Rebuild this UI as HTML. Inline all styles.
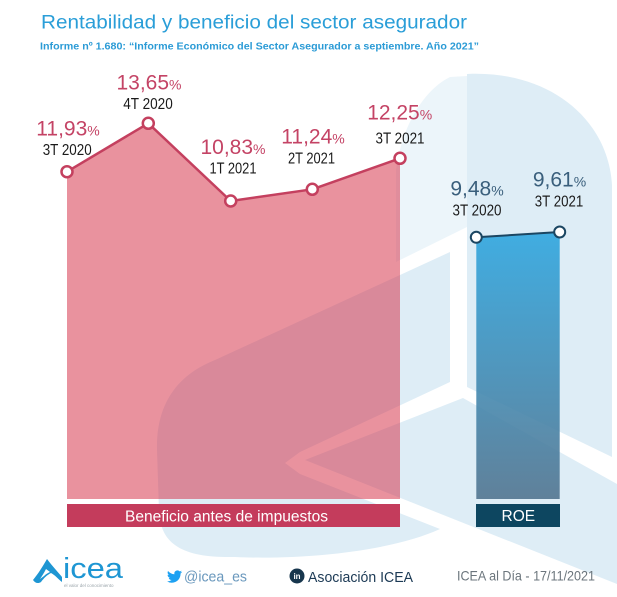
<!DOCTYPE html>
<html>
<head>
<meta charset="utf-8">
<style>
  html, body { margin: 0; padding: 0; background: #fff; }
  svg { display: block; }
  text { font-family: "Liberation Sans", Arial, sans-serif; }
</style>
</head>
<body>
<svg width="617" height="597" viewBox="0 0 617 597" xmlns="http://www.w3.org/2000/svg">
  <defs>
    <linearGradient id="roeg" x1="0" y1="0" x2="0" y2="1">
      <stop offset="0" stop-color="#2fa6df"/>
      <stop offset="1" stop-color="#527590"/>
    </linearGradient>
  </defs>
  <rect width="617" height="597" fill="#ffffff"/>

  <!-- watermark -->
  <path fill="#ecf5fa" d="M450,77 C424,90 402,125 396,170 L396,262 L467,227 L467,76 Z"/>
  <g fill="#deedf6">
    <path d="M467,74 C548,70 608,118 612,185 L612,457 L467,387 Z"/>
    <path d="M450,252 L450,382 L300,452 L285,463 L300,474 L440,529 C390,552 300,560 235,557 C185,558 161,546 159,512 L157,450 C156,410 172,377 215,360 Z"/>
    <path d="M463,398 L305,460 L617,584 L617,484 Z"/>
  </g>

  <!-- Title -->
  <text x="41" y="28.5" font-size="19.5" fill="#2a9ed8" textLength="426" lengthAdjust="spacingAndGlyphs">Rentabilidad y beneficio del sector asegurador</text>
  <text x="40" y="49.5" font-size="10.5" font-weight="bold" fill="#2b9bd6" textLength="439" lengthAdjust="spacingAndGlyphs">Informe nº 1.680: “Informe Económico del Sector Asegurador a septiembre. Año 2021”</text>

  <!-- Red area -->
  <polygon points="67,171.7 148.3,123.3 230.7,201 312.3,189.3 400,158.3 400,499 67,499" fill="rgb(212,43,67)" fill-opacity="0.515"/>
  <polyline points="67,171.7 148.3,123.3 230.7,201 312.3,189.3 400,158.3" fill="none" stroke="#c4405f" stroke-width="2.5" stroke-linejoin="round"/>
  <g fill="#ffffff" stroke="#c4405f" stroke-width="2.5">
    <circle cx="67" cy="171.7" r="5.5"/>
    <circle cx="148.3" cy="123.3" r="5.5"/>
    <circle cx="230.7" cy="201" r="5.5"/>
    <circle cx="312.3" cy="189.3" r="5.5"/>
    <circle cx="400" cy="158.3" r="5.5"/>
  </g>

  <!-- Red value labels -->
  <g fill="#c44365" font-size="21" text-anchor="middle">
    <text x="68" y="135.7">11,93<tspan font-size="14">%</tspan></text>
    <text x="149" y="89.3">13,65<tspan font-size="14">%</tspan></text>
    <text x="233" y="154">10,83<tspan font-size="14">%</tspan></text>
    <text x="313" y="143.3">11,24<tspan font-size="14">%</tspan></text>
    <text x="399.7" y="119.3">12,25<tspan font-size="14">%</tspan></text>
  </g>
  <g fill="#1a1a1a" font-size="16" text-anchor="middle">
    <text x="67.2" y="155" textLength="49" lengthAdjust="spacingAndGlyphs">3T 2020</text>
    <text x="148" y="109" textLength="49.5" lengthAdjust="spacingAndGlyphs">4T 2020</text>
    <text x="233" y="173.3" textLength="47" lengthAdjust="spacingAndGlyphs">1T 2021</text>
    <text x="311.5" y="163.3" textLength="47" lengthAdjust="spacingAndGlyphs">2T 2021</text>
    <text x="400" y="143.3" textLength="49" lengthAdjust="spacingAndGlyphs">3T 2021</text>
  </g>

  <!-- ROE column -->
  <polygon points="476.3,237.3 559.7,232 559.7,499 476.3,499" fill="url(#roeg)" fill-opacity="0.9"/>
  <line x1="476.3" y1="237.3" x2="559.7" y2="232" stroke="#1b4662" stroke-width="2"/>
  <g fill="#ffffff" stroke="#1b4662" stroke-width="2">
    <circle cx="476.3" cy="237.3" r="5.5"/>
    <circle cx="559.7" cy="232" r="5.5"/>
  </g>
  <g fill="#3a5f7c" font-size="21" text-anchor="middle">
    <text x="477" y="195.7">9,48<tspan font-size="14">%</tspan></text>
    <text x="559.5" y="186.7">9,61<tspan font-size="14">%</tspan></text>
  </g>
  <g fill="#1a1a1a" font-size="16" text-anchor="middle">
    <text x="477" y="215.7" textLength="49" lengthAdjust="spacingAndGlyphs">3T 2020</text>
    <text x="559" y="206.7" textLength="48.5" lengthAdjust="spacingAndGlyphs">3T 2021</text>
  </g>

  <!-- Category bars -->
  <rect x="67" y="504" width="333" height="23" fill="#c43c5c"/>
  <text x="125" y="521.5" font-size="15.5" fill="#ffffff" textLength="203" lengthAdjust="spacingAndGlyphs">Beneficio antes de impuestos</text>
  <rect x="476" y="504" width="84" height="23" fill="#0d4660"/>
  <text x="518.3" y="521" font-size="15.5" fill="#ffffff" text-anchor="middle">ROE</text>

  <!-- Footer: ICEA logo -->
  <path fill="#1e96d3" d="M47,559 C43,566 38,574 33,580 C35,583 38,584 41,582 C44,578 47,575 51,573 C55,575 58,579 62,582 L62,577 C58,572 53,567 47,559 Z"/>
  <path fill="#ffffff" d="M46,569 C44,573 42,576 40,579 L44,576 C46,574 48,573 50,572 Z"/>
  <text x="63" y="578" font-size="29" fill="#1e96d3" textLength="60" lengthAdjust="spacingAndGlyphs">icea</text>
  <text x="64" y="587" font-size="4.5" fill="#9aa4aa">el valor del conocimiento</text>

  <!-- Twitter -->
  <g transform="translate(167,569) scale(0.63)">
    <path fill="#1da1f2" d="M23.953 4.57a10 10 0 01-2.825.775 4.958 4.958 0 002.163-2.723c-.951.555-2.005.959-3.127 1.184a4.92 4.92 0 00-8.384 4.482C7.69 8.095 4.067 6.13 1.64 3.162a4.822 4.822 0 00-.666 2.475c0 1.71.87 3.213 2.188 4.096a4.904 4.904 0 01-2.228-.616v.06a4.923 4.923 0 003.946 4.827 4.996 4.996 0 01-2.212.085 4.936 4.936 0 004.604 3.417 9.867 9.867 0 01-6.102 2.105c-.39 0-.779-.023-1.17-.067a13.995 13.995 0 007.557 2.209c9.053 0 13.998-7.496 13.998-13.985 0-.21 0-.42-.015-.63A9.935 9.935 0 0024 4.59z"/>
  </g>
  <text x="184" y="581.5" font-size="15" fill="#6a98bd" textLength="63" lengthAdjust="spacingAndGlyphs">@icea_es</text>

  <!-- LinkedIn -->
  <circle cx="297" cy="576" r="7.5" fill="#17364d"/>
  <text x="297" y="579" font-size="8" font-weight="bold" fill="#ffffff" text-anchor="middle">in</text>
  <text x="308" y="582" font-size="15" fill="#1c3a55" textLength="105" lengthAdjust="spacingAndGlyphs">Asociación ICEA</text>

  <!-- Date -->
  <text x="457" y="580.5" font-size="14" fill="#6b757c" textLength="138" lengthAdjust="spacingAndGlyphs">ICEA al Día - 17/11/2021</text>
</svg>
</body>
</html>
